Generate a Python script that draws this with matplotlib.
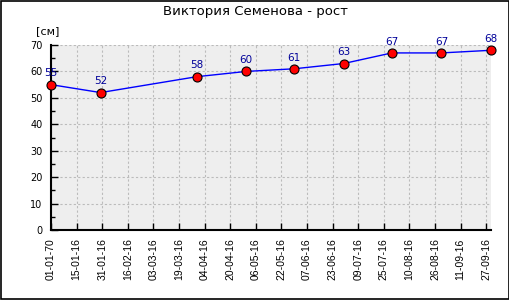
import matplotlib
matplotlib.use("Agg")
import matplotlib.pyplot as plt
from matplotlib.ticker import MultipleLocator
from datetime import date

title = "Виктория Семенова - рост"
unit = "[см]"
dates = ["30-12-15", "30-01-16", "30-03-16", "30-04-16", "30-05-16",
         "30-06-16", "30-07-16", "30-08-16", "30-09-16"]
heights = [55, 52, 58, 60, 61, 63, 67, 67, 68]
tick_labels = ["01-01-70", "15-01-16", "31-01-16", "16-02-16", "03-03-16",
               "19-03-16", "04-04-16", "20-04-16", "06-05-16", "22-05-16",
               "07-06-16", "23-06-16", "09-07-16", "25-07-16", "10-08-16",
               "26-08-16", "11-09-16", "27-09-16"]

def to_date(s):
    d, m, y = s.split("-")
    return date(2000 + int(y), int(m), int(d))

origin = to_date(dates[0])
xs = [(to_date(s) - origin).days for s in dates]
tick_pos = [16 * i for i in range(len(tick_labels))]

fig = plt.figure(figsize=(5.1, 3.0), dpi=100)
fig.patch.set_facecolor("white")
ax = fig.add_axes([51 / 510, 1 - 230 / 300, (491 - 51) / 510, (230 - 45) / 300])
ax.set_facecolor("#eeeeee")

ax.plot(xs, heights, color="#0000ff", lw=1, zorder=3, clip_on=False)
ax.plot(xs, heights, ls="none", marker="o", ms=6.5, mfc="#ff0000", mec="black",
        mew=0.8, zorder=4, clip_on=False)
for x, h in zip(xs, heights):
    ax.annotate(str(h), (x, h), xytext=(0, 4.5), textcoords="offset points",
                ha="center", va="bottom", color="#000099", fontsize=7.5,
                family="DejaVu Sans", zorder=5, annotation_clip=False)

ax.set_xlim(0, xs[-1])
ax.set_ylim(0, 70)
ax.set_xticks(tick_pos)
ax.set_xticklabels(tick_labels, rotation=90, fontsize=7.5, family="Liberation Sans")
ax.yaxis.set_major_locator(MultipleLocator(10))
ax.yaxis.set_minor_locator(MultipleLocator(5))
ax.tick_params(axis="y", which="major", direction="in", length=5, width=1,
               labelsize=7, pad=6)
ax.tick_params(axis="y", which="minor", direction="in", length=3, width=1)
ax.tick_params(axis="x", direction="in", length=5, width=1, pad=6)
for lbl in ax.get_yticklabels():
    lbl.set_family("DejaVu Sans")

ax.grid(True, which="major", color="#bbbbbb", ls=(0, (2, 2)), lw=0.8)
ax.set_axisbelow(True)
for s in ["top", "right"]:
    ax.spines[s].set_visible(False)
for s in ["left", "bottom"]:
    ax.spines[s].set_linewidth(1.5)

fig.text(0.5, 1 - 12 / 300, title, ha="center", va="center", fontsize=9.5,
         family="DejaVu Sans")
fig.text(48 / 510, 1 - 31 / 300, unit, ha="center", va="center", fontsize=8,
         family="DejaVu Sans")

border = plt.Rectangle((0.001, 0.002), 0.997, 0.995, transform=fig.transFigure,
                       fill=False, ec="black", lw=1.2)
fig.patches.append(border)

fig.savefig("out.png", dpi=100)
